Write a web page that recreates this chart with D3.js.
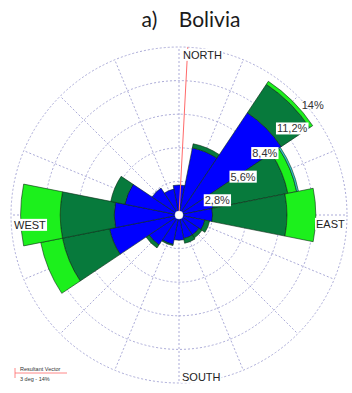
<!DOCTYPE html>
<html><head><meta charset="utf-8">
<script src="https://cdn.jsdelivr.net/npm/d3@7"></script>
<style>
html,body{margin:0;padding:0;background:#fff;}
svg{display:block;}
</style></head>
<body>
<svg id="chart" width="352" height="393"></svg>
<script>
// ---- data ----
const directions = ["N","NNE","NE","ENE","E","ESE","SE","SSE","S","SSW","SW","WSW","W","WNW","NW","NNW"];
const classLow  = [2.5, 5.7, 10.25, 2.9, 2.8, 2.2, 2.0, 2.0, 2.1, 2.5, 3.0, 5.9, 5.4, 4.6, 2.7, 2.2];
const classMid  = [0,   0.35, 2.85, 6.35, 6.2, 0.4, 0.3, 0.4, 0,   0.1, 0.3, 4.0, 4.5, 1.2, 0,   0];
const classHigh = [0,   0,    0.3,  0.75, 2.4, 0,   0,   0,   0,   0,   0,   1.85, 3.3, 0,  0,   0];
const classTop  = [0,   0,    0,    0.15, 0,   0,   0,   0,   0,   0,   0,   0,   0,   0,   0,   0];
const ringTicks = [2.8, 5.6, 8.4, 11.2, 14];
const ringLabels = ["2,8%", "5,6%", "8,4%", "11,2%", "14%"];
const compassLabels = ["NORTH", "EAST", "SOUTH", "WEST"];
const titleText = "a)    Bolivia";
const resultantDir = 3;     // degrees
const resultantPct = 14;    // percent
const legendLines = ["Resultant Vector", "3 deg - 14%"];

const series = [classLow, classMid, classHigh, classTop];
const colors = ["#0000ff", "#077a3c", "#1cf01c", "#33cccc"];

// ---- layout ----
const svg = d3.select("#chart");
const cx = 179, cy = 215;
const r = d3.scaleLinear().domain([0, 14]).range([0, 168]);
const ang = d3.scaleBand().domain(directions).range([0, 2 * Math.PI]);
const step = ang.step();
const g = svg.append("g").attr("transform", `translate(${cx},${cy})`);

// title
svg.append("text").attr("x", 191).attr("y", 27)
  .attr("text-anchor", "middle")
  .style("font-family", "Lato, 'Open Sans', sans-serif")
  .style("font-size", "21px").style("font-weight", "400").style("white-space", "pre")
  .attr("fill", "#1a1a1a").text(titleText);

// grid rings
const gridColor = "#ababd8";
g.selectAll("circle.ring").data(ringTicks).join("circle")
  .attr("class", "ring").attr("r", d => r(d))
  .attr("fill", "none").attr("stroke", gridColor).attr("stroke-width", 1)
  .attr("stroke-dasharray", "2,2");

// spokes
g.selectAll("line.spoke").data(directions).join("line")
  .attr("class", "spoke")
  .attr("x1", 0).attr("y1", 0)
  .attr("x2", d => r(14) * Math.sin(ang(d)))
  .attr("y2", d => -r(14) * Math.cos(ang(d)))
  .attr("stroke", gridColor).attr("stroke-width", 1)
  .attr("stroke-dasharray", "2,2");

// petals
const arc = d3.arc();
directions.forEach((dir, i) => {
  let acc = 0;
  series.forEach((s, k) => {
    const v = s[i];
    if (v <= 0) return;
    const a0 = ang(dir) - step / 2;
    g.append("path")
      .attr("d", arc({innerRadius: r(acc), outerRadius: r(acc + v), startAngle: a0, endAngle: a0 + step}))
      .attr("fill", colors[k]).attr("stroke", "#0a2a14").attr("stroke-width", 0.6)
      .attr("stroke-linejoin", "miter");
    acc += v;
  });
});

// resultant vector
const ra = resultantDir * Math.PI / 180;
g.append("line").attr("x1", 0).attr("y1", 0)
  .attr("x2", r(resultantPct) * Math.sin(ra)).attr("y2", -r(resultantPct) * Math.cos(ra))
  .attr("stroke", "#ff6a6a").attr("stroke-width", 1);

// center hole
g.append("circle").attr("r", 4).attr("fill", "#fff").attr("stroke", "#dde").attr("stroke-width", 0.5);

// ring labels
const labAng = 50 * Math.PI / 180;
const labOff = [[0, 7], [0, 5], [-4, 3], [-5, 0], [-6, -2]];
ringTicks.forEach((t, i) => {
  const x = r(t) * Math.sin(labAng) + labOff[i][0];
  const y = -r(t) * Math.cos(labAng) + labOff[i][1];
  const txt = g.append("text").attr("x", x).attr("y", y).attr("dy", "0.35em")
    .style("font-family", "'Liberation Sans', Arial, sans-serif")
    .style("font-size", "11px").attr("fill", "#333").text(ringLabels[i]);
  if (i < 4) {
    const bb = txt.node().getBBox();
    g.insert("rect", () => txt.node()).attr("x", bb.x - 1).attr("y", bb.y)
      .attr("width", bb.width + 2).attr("height", bb.height).attr("fill", "#fff");
  }
});

// compass labels
const compassPos = [[183, 55, "start"], [316, 224, "start"], [182, 377, "start"], [14, 225, "start"]];
compassLabels.forEach((l, i) => {
  const [x, y, anchor] = compassPos[i];
  const txt = svg.append("text").attr("x", x).attr("y", y).attr("dy", "0.35em")
    .attr("text-anchor", anchor)
    .style("font-family", "'Liberation Sans', Arial, sans-serif")
    .style("font-size", "11px").attr("fill", "#222").text(l);
  const bb = txt.node().getBBox();
  svg.insert("rect", () => txt.node()).attr("x", bb.x - 1).attr("y", bb.y)
    .attr("width", bb.width + 2).attr("height", bb.height).attr("fill", "#fff");
});

// legend
const lg = svg.append("g").attr("transform", "translate(15,373)");
lg.append("line").attr("x1", 0).attr("y1", 0).attr("x2", 52).attr("y2", 0)
  .attr("stroke", "#ff6a6a").attr("stroke-width", 0.8);
lg.append("line").attr("x1", 0).attr("y1", -5).attr("x2", 0).attr("y2", 5)
  .attr("stroke", "#ff6a6a").attr("stroke-width", 0.8);
lg.append("text").attr("x", 5).attr("y", -2.5)
  .style("font-family", "'Liberation Sans', Arial, sans-serif")
  .style("font-size", "5.5px").attr("fill", "#333").text(legendLines[0]);
lg.append("text").attr("x", 5).attr("y", 8)
  .style("font-family", "'Liberation Sans', Arial, sans-serif")
  .style("font-size", "5.5px").attr("fill", "#333").text(legendLines[1]);
</script>
</body></html>
